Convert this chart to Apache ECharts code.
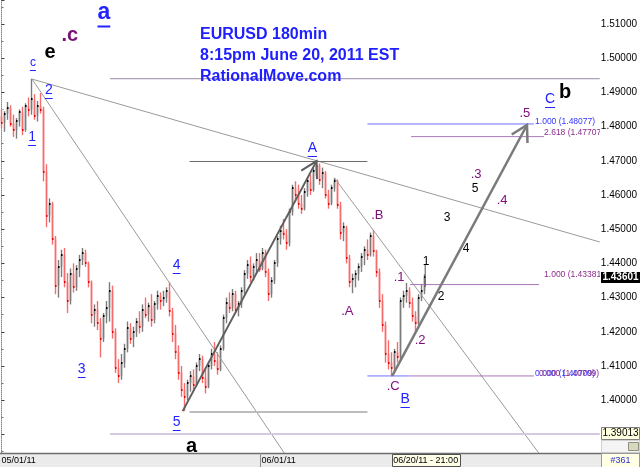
<!DOCTYPE html>
<html><head><meta charset="utf-8">
<script src="https://cdn.jsdelivr.net/npm/echarts@6/dist/echarts.min.js"></script>
<style>html,body{margin:0;padding:0;background:#fff}#c{width:640px;height:467px}</style>
</head><body><div id="c"></div>
<script>
// ---- price bars (one entry per bar) ----
const barOpen = [1.4830,1.4812,1.4838,1.4855,1.4808,1.4790,1.4815,1.4842,1.4790,1.4860,
1.4850,1.4880,1.4832,1.4860,1.4850,1.4668,1.4540,1.4575,1.4470,1.4335,
1.4390,1.4425,1.4345,1.4290,1.4370,1.4330,1.4385,1.4410,1.4430,1.4400,
1.4345,1.4250,1.4265,1.4225,1.4180,1.4245,1.4270,1.4320,1.4200,1.4095,
1.4070,1.4110,1.4150,1.4210,1.4180,1.4200,1.4230,1.4215,1.4265,1.4250,
1.4275,1.4235,1.4280,1.4305,1.4290,1.4300,1.4318,1.4260,1.4195,1.4140,
1.4080,1.4030,1.4010,1.4050,1.4070,1.4045,1.4100,1.4120,1.4065,1.4040,
1.4100,1.4135,1.4115,1.4090,1.4150,1.4240,1.4285,1.4270,1.4310,1.4265,
1.4280,1.4320,1.4370,1.4395,1.4360,1.4390,1.4410,1.4385,1.4430,1.4375,
1.4310,1.4350,1.4400,1.4470,1.4495,1.4485,1.4460,1.4550,1.4620,1.4600,
1.4575,1.4560,1.4610,1.4640,1.4615,1.4670,1.4685,1.4645,1.4665,1.4600,
1.4575,1.4620,1.4640,1.4570,1.4490,1.4505,1.4415,1.4345,1.4355,1.4370,
1.4390,1.4420,1.4440,1.4425,1.4480,1.4435,1.4375,1.4290,1.4220,1.4135,
1.4110,1.4095,1.4140,1.4125,1.4290,1.4305,1.4320,1.4285,1.4245,1.4225,
1.4300,1.4320];
const barHigh = [1.4850,1.4845,1.4872,1.4862,1.4835,1.4825,1.4850,1.4858,1.4868,1.4885,
1.4940,1.4895,1.4875,1.4898,1.4858,1.4690,1.4590,1.4580,1.4480,1.4410,
1.4440,1.4445,1.4372,1.4385,1.4400,1.4395,1.4425,1.4445,1.4440,1.4405,
1.4350,1.4280,1.4290,1.4240,1.4255,1.4290,1.4345,1.4335,1.4210,1.4120,
1.4135,1.4165,1.4230,1.4225,1.4215,1.4240,1.4260,1.4280,1.4300,1.4285,
1.4310,1.4290,1.4320,1.4315,1.4320,1.4330,1.4345,1.4270,1.4220,1.4160,
1.4100,1.4050,1.4060,1.4085,1.4090,1.4110,1.4135,1.4130,1.4090,1.4110,
1.4150,1.4170,1.4140,1.4160,1.4250,1.4300,1.4315,1.4325,1.4320,1.4290,
1.4330,1.4380,1.4410,1.4420,1.4400,1.4430,1.4430,1.4445,1.4440,1.4385,
1.4360,1.4410,1.4480,1.4510,1.4530,1.4500,1.4560,1.4630,1.4640,1.4630,
1.4600,1.4620,1.4650,1.4660,1.4680,1.4698,1.4692,1.4680,1.4670,1.4615,
1.4630,1.4650,1.4645,1.4580,1.4520,1.4510,1.4425,1.4370,1.4380,1.4400,
1.4430,1.4450,1.4470,1.4490,1.4498,1.4440,1.4385,1.4310,1.4230,1.4175,
1.4140,1.4150,1.4170,1.4300,1.4320,1.4343,1.4330,1.4300,1.4260,1.4310,
1.4340,1.4368];
const barLow = [1.4795,1.4785,1.4820,1.4800,1.4770,1.4765,1.4800,1.4775,1.4785,1.4830,
1.4835,1.4820,1.4815,1.4838,1.4640,1.4506,1.4520,1.4455,1.4310,1.4300,
1.4360,1.4330,1.4255,1.4280,1.4315,1.4320,1.4360,1.4395,1.4390,1.4330,
1.4225,1.4215,1.4205,1.4125,1.4170,1.4225,1.4230,1.4180,1.4080,1.4050,
1.4060,1.4095,1.4140,1.4165,1.4155,1.4185,1.4195,1.4200,1.4240,1.4230,
1.4215,1.4225,1.4265,1.4265,1.4275,1.4285,1.4245,1.4170,1.4120,1.4060,
1.4010,1.3968,1.4000,1.4025,1.4030,1.4040,1.4085,1.4050,1.4020,1.4035,
1.4090,1.4100,1.4075,1.4085,1.4145,1.4225,1.4255,1.4260,1.4255,1.4245,
1.4270,1.4310,1.4355,1.4345,1.4350,1.4370,1.4375,1.4380,1.4360,1.4290,
1.4300,1.4340,1.4390,1.4455,1.4470,1.4440,1.4450,1.4540,1.4580,1.4560,
1.4545,1.4555,1.4595,1.4600,1.4610,1.4655,1.4630,1.4620,1.4590,1.4560,
1.4570,1.4610,1.4560,1.4470,1.4465,1.4400,1.4330,1.4313,1.4330,1.4350,
1.4375,1.4395,1.4410,1.4420,1.4420,1.4360,1.4270,1.4200,1.4110,1.4090,
1.4070,1.4085,1.4110,1.4120,1.4270,1.4285,1.4270,1.4230,1.4200,1.4220,
1.4290,1.4310];
const barClose = [1.4812,1.4838,1.4855,1.4808,1.4790,1.4815,1.4842,1.4790,1.4860,1.4850,
1.4880,1.4832,1.4860,1.4850,1.4668,1.4540,1.4575,1.4470,1.4335,1.4390,
1.4425,1.4345,1.4290,1.4370,1.4330,1.4385,1.4410,1.4430,1.4400,1.4345,
1.4250,1.4265,1.4225,1.4180,1.4245,1.4270,1.4320,1.4200,1.4095,1.4070,
1.4110,1.4150,1.4210,1.4180,1.4200,1.4230,1.4215,1.4265,1.4250,1.4275,
1.4235,1.4280,1.4305,1.4290,1.4300,1.4318,1.4260,1.4195,1.4140,1.4080,
1.4030,1.4010,1.4050,1.4070,1.4045,1.4100,1.4120,1.4065,1.4040,1.4100,
1.4135,1.4115,1.4090,1.4150,1.4240,1.4285,1.4270,1.4310,1.4265,1.4280,
1.4320,1.4370,1.4395,1.4360,1.4390,1.4410,1.4385,1.4430,1.4375,1.4310,
1.4350,1.4400,1.4470,1.4495,1.4485,1.4460,1.4550,1.4620,1.4600,1.4575,
1.4560,1.4610,1.4640,1.4615,1.4670,1.4685,1.4645,1.4665,1.4600,1.4575,
1.4620,1.4640,1.4570,1.4490,1.4505,1.4415,1.4345,1.4355,1.4370,1.4390,
1.4420,1.4440,1.4425,1.4480,1.4435,1.4375,1.4290,1.4220,1.4135,1.4110,
1.4095,1.4140,1.4125,1.4290,1.4305,1.4320,1.4285,1.4245,1.4225,1.4300,
1.4320,1.4360];

// ---- axis / reference values ----
const priceMin = 1.38456, priceMax = 1.51702;
const slotMin = -0.5, slotMax = 199.8333;
const lastPrice = 1.43601;
const refPrice = 1.39013;
const dateTickIdx = [0, 87];
const dateTickText = ['05/01/11', '06/01/11'];
const cursorText = '06/20/11 - 21:00';
const barCountText = '#361';
const titleLines = ['EURUSD 180min', '8:15pm June 20, 2011 EST', 'RationalMove.com'];

// ---- annotation segments: [slot1, price1, slot2, price2] ----
const segCoords = [
  [10.2, 1.4939, 199.8, 1.44626],
  [10.2, 1.4939, 94.4, 1.38460],
  [111.2, 1.4650, 179.4, 1.38460],
  [36.2, 1.4940, 199.8, 1.4940],
  [36.2, 1.39013, 199.8, 1.39013],
  [62.8, 1.4698, 122.2, 1.4698],
  [62.8, 1.39655, 122.2, 1.39655],
  [122.2, 1.48077, 177.8, 1.48077],
  [136.8, 1.47707, 181.2, 1.47707],
  [136.5, 1.43381, 179.5, 1.43381],
  [122.2, 1.40709, 136.2, 1.40709],
  [136.2, 1.40709, 177.8, 1.40709],
  [60.5, 1.3968, 105.2, 1.4699],
  [130.5, 1.4071, 175.5, 1.48047],
  [141.5, 1.4398, 141.5, 1.4331]
];
const segKind = ['trend','trend','trend','topLevel','refLevel','aLevel','lowLevel',
  'fibBlue','fibPurple','fibPurple','fibBlue','fibPurple','arrowDark','arrow','stick'];

// ---- wave labels: anchor [slot, price] and text ----
const labelPos = [
  [34.2,1.51322],[22.8,1.5065],[16.2,1.5018],[10.5,1.4986],[15.8,1.4907],[10.2,1.4770],
  [26.8,1.4091],[58.5,1.4395],[58.5,1.3936],[63.5,1.3866],[103.8,1.4737],[125.5,1.4539],
  [115.5,1.4261],[130.8,1.4039],[134.8,1.4004],[132.8,1.4360],[141.8,1.4404],[146.8,1.4302],
  [139.8,1.4176],[155.2,1.4442],[148.8,1.4533],[158.2,1.4618],[158.5,1.4661],[167.2,1.4585],
  [174.8,1.4840],[183.2,1.4881],[188.2,1.4901],
  [178.2,1.48135],[181.2,1.47813],[181.2,1.4366],[178.2,1.40766],[179.5,1.40766]
];
const labelText = ['a','.c','e','c','2','1','3','4','5','a','A','.B','.A','.C','B','.1','1','2',
  '.2','4','3','5','.3','.4','.5','C','b',
  '1.000 (1.48077)','2.618 (1.47707)','1.000 (1.43381)','0.000 (1.40709)','0.000 (1.40709)'];
const labelKind = ['bigBlueU','purpleBig','blackBig','blueUs','blueU','blueU','blueU','blueU','blueU',
  'blackBig','blueU','purple','purple','purple','blueU','purple','black','black','purple','black',
  'black','black','purple','purple','purple','blueU','blackBig','fibBlue','fibPurple','fibPurple','fibBlue','fibPurple'];

// ---- styles ----
const FF = '"Liberation Sans", Arial, Helvetica, sans-serif';
const segStyles = {
  trend:{color:'#9a9a9a', width:1},
  topLevel:{color:'#9888a8', width:1},
  refLevel:{color:'#d6c8de', width:2},
  aLevel:{color:'#6c6c6c', width:1},
  lowLevel:{color:'#bdbdbd', width:2},
  fibBlue:{color:'#7070ff', width:1},
  fibPurple:{color:'#a878b8', width:1},
  arrowDark:{color:'#5e5e5e', width:2, arrow:true},
  arrow:{color:'#7a7a7a', width:2.5, arrow:true},
  stick:{color:'#505050', width:1}
};
const labelStyles = {
  bigBlueU:{size:23, weight:'bold', color:'#2323ff', u:true},
  blueU:{size:14, weight:'normal', color:'#2323ff', u:true},
  blueUs:{size:12, weight:'normal', color:'#2323ff', u:true},
  purpleBig:{size:20, weight:'bold', color:'#7a1078'},
  blackBig:{size:20, weight:'bold', color:'#000'},
  purple:{size:13, weight:'normal', color:'#80107e'},
  black:{size:12, weight:'normal', color:'#000'},
  fibBlue:{size:8.5, weight:'normal', color:'#3434ff', align:'left'},
  fibPurple:{size:8.5, weight:'normal', color:'#8c2c8c', align:'left'}
};

const mctx = document.createElement('canvas').getContext('2d');

function renderBar(params, api){
  const i = api.value(0), o = api.value(1), h = api.value(2), l = api.value(3), c = api.value(4);
  const pO = api.coord([i,o]), pH = api.coord([i,h]), pL = api.coord([i,l]), pC = api.coord([i,c]);
  const w = api.size([1,0])[0];
  const up = c >= o;
  const x = Math.round(pO[0]) + 0.5;
  const top = Math.min(pO[1], pC[1]);
  return {type:'group', children:[
    {type:'rect', shape:{x:x-w/2, y:pH[1], width:w, height:pL[1]-pH[1]},
      style:{fill: up ? '#e6e6e6' : '#ffe2e2'}},
    {type:'rect', shape:{x:x-w/2, y:top, width:w, height:Math.max(1.5, Math.abs(pO[1]-pC[1]))},
      style:{fill: up ? '#cbcbcb' : '#ffc2c2'}},
    {type:'line', shape:{x1:x, y1:pH[1], x2:x, y2:pL[1]},
      style:{stroke: up ? '#7c7c7c' : '#f46c6c', lineWidth:1}},
    {type:'rect', shape:{x:x-0.5, y:Math.round(pC[1])-1, width:1.5, height:2},
      style:{fill: up ? '#000' : '#e80000'}}
  ]};
}

function renderSeg(params, api){
  const s = segStyles[segKind[params.dataIndex]];
  const a = api.coord([api.value(0), api.value(1)]);
  const b = api.coord([api.value(2), api.value(3)]);
  const kids = [{type:'line', shape:{x1:a[0], y1:a[1], x2:b[0], y2:b[1]},
    style:{stroke:s.color, lineWidth:s.width}}];
  if (s.arrow){
    const ang = Math.atan2(b[1]-a[1], b[0]-a[0]);
    const L = 18, sp = 0.52;
    kids.push({type:'polyline', shape:{points:[
      [b[0]-L*Math.cos(ang-sp), b[1]-L*Math.sin(ang-sp)], [b[0], b[1]],
      [b[0]-L*Math.cos(ang+sp), b[1]-L*Math.sin(ang+sp)]]},
      style:{stroke:s.color, lineWidth:s.width, fill:null}});
  }
  return {type:'group', children:kids};
}

function renderLabel(params, api){
  const i = params.dataIndex;
  const st = labelStyles[labelKind[i]];
  const p = api.coord([api.value(0), api.value(1)]);
  const txt = labelText[i];
  const kids = [{type:'text', x:p[0], y:p[1], style:{text:txt, fill:st.color,
    fontSize:st.size, fontWeight:st.weight, fontFamily:FF,
    align:st.align || 'center', verticalAlign:'middle'}}];
  if (st.u){
    mctx.font = st.weight + ' ' + st.size + 'px ' + FF;
    const w = mctx.measureText(txt).width;
    const uy = Math.round(p[1] + st.size*0.55) + 0.5;
    kids.push({type:'line', shape:{x1:p[0]-w/2, y1:uy, x2:p[0]+w/2, y2:uy},
      style:{stroke:st.color, lineWidth:st.size > 18 ? 2 : 1}});
  }
  return {type:'group', children:kids};
}

const chart = echarts.init(document.getElementById('c'), null, {renderer:'canvas'});
const barData = barOpen.map((o,i)=>[i, o, barHigh[i], barLow[i], barClose[i]]);

chart.setOption({
  animation:false,
  backgroundColor:'#ffffff',
  title:{text:titleLines.join('\n'), left:195, top:19,
    textStyle:{fontSize:16, fontWeight:'bold', color:'#2020ff', fontFamily:FF, lineHeight:21}},
  grid:{left:0, right:39, top:0, bottom:14, containLabel:false},
  xAxis:{type:'value', min:slotMin, max:slotMax, show:false},
  yAxis:{type:'value', position:'right', min:priceMin, max:priceMax, splitNumber:13, scale:true,
    axisLine:{show:true, lineStyle:{color:'#8a8a8a', type:'dotted'}},
    axisTick:{show:true, length:3, lineStyle:{color:'#404040'}},
    minorTick:{show:true, splitNumber:2, length:2, lineStyle:{color:'#707070'}},
    splitLine:{show:false},
    axisLabel:{fontSize:10, color:'#000', margin:1, fontFamily:FF,
      showMinLabel:false, showMaxLabel:false, formatter:v=>v.toFixed(5)}},
  series:[
    {type:'custom', name:'bars', renderItem:renderBar, data:barData, clip:true,
      encode:{x:0, y:[1,2,3,4]}, z:2},
    {type:'custom', name:'lines', renderItem:renderSeg, data:segCoords, clip:true,
      encode:{x:[0,2], y:[1,3]}, z:3},
    {type:'custom', name:'labels', renderItem:renderLabel, data:labelPos, clip:true,
      encode:{x:0, y:1}, z:4}
  ]
});

const X = v => chart.convertToPixel({xAxisIndex:0}, v);
const Y = v => chart.convertToPixel({yAxisIndex:0}, v);
const yb = Y(priceMin);
const g = [];
const T = (x,y,text,opt)=>Object.assign({type:'text', x:x, y:y, z:120,
  style:Object.assign({text:text, fill:'#000', fontSize:9, fontFamily:FF, verticalAlign:'middle'}, opt||{})});
g.push({type:'rect', z:110, shape:{x:0, y:yb, width:640, height:467-yb}, style:{fill:'#ebebeb'}});
g.push({type:'line', z:111, shape:{x1:0, y1:yb+0.5, x2:640, y2:yb+0.5}, style:{stroke:'#6e6e6e', lineWidth:1.5}});
dateTickIdx.forEach((idx,k)=>{
  const px = Math.max(0, Math.round(X(idx) - 1.5));
  if (px > 0) g.push({type:'line', z:111, shape:{x1:px+0.5, y1:yb, x2:px+0.5, y2:467}, style:{stroke:'#8c8c8c'}});
  g.push(T(px+1.5, yb+7.5, dateTickText[k]));
});
const cx = X(barOpen.length-1) + 2;
g.push({type:'rect', z:115, shape:{x:Math.round(cx-34)+0.5, y:yb+1.5, width:68, height:12}, style:{fill:'#ffffe8', stroke:'#505050', lineWidth:1}});
g.push(T(cx, yb+7.5, cursorText, {align:'center'}));
g.push({type:'rect', z:115, shape:{x:601.5, y:yb+0.5, width:38, height:467-yb}, style:{fill:'#ffffe6', stroke:'#9a9a9a'}});
g.push(T(620.5, yb+7.5, barCountText, {align:'center', fill:'#3030c8'}));
// price marker boxes
const yl = Y(lastPrice);
g.push({type:'rect', z:115, shape:{x:601, y:Math.round(yl)-5, width:39, height:11}, style:{fill:'#000'}});
g.push(T(620.5, Math.round(yl)+0.5, lastPrice.toFixed(5), {align:'center', fill:'#fff', fontWeight:'bold', fontSize:10}));
const yr = Y(refPrice);
g.push({type:'rect', z:115, shape:{x:601.5, y:Math.round(yr)-6.5, width:38, height:12}, style:{fill:'#ffffe0', stroke:'#808080'}});
g.push(T(620.5, Math.round(yr)-0.5, refPrice.toFixed(5), {align:'center', fontSize:10}));
g.push({type:'rect', z:115, shape:{x:601.5, y:Math.round(yr)+6.5, width:38, height:yb-Math.round(yr)-7}, style:{fill:'#f4f4f4', stroke:'#a8a8a8', lineDash:[1,1]}});
g.push({type:'rect', z:116, shape:{x:628.5, y:Math.round(yr)+8.5, width:10, height:yb-Math.round(yr)-11}, style:{fill:'#d8d8c0', stroke:'#909080'}});
chart.setOption({graphic:g});
</script>
</body></html>
